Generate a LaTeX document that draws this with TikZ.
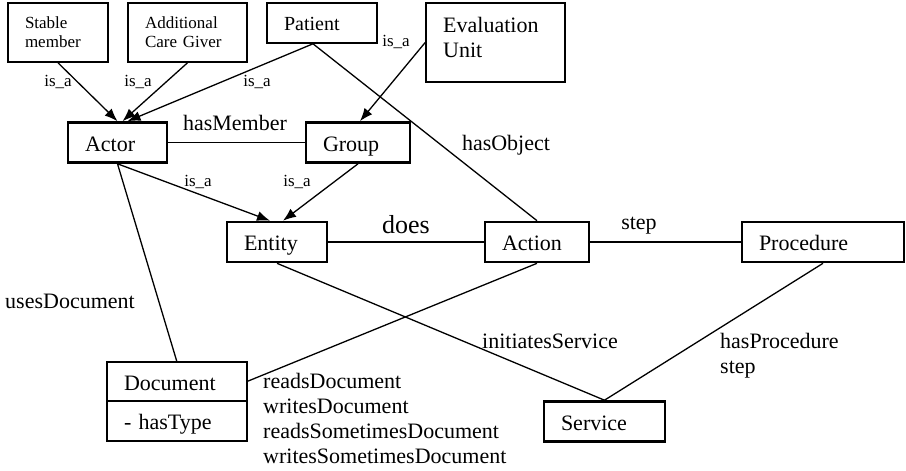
\documentclass[tikz,border=0pt]{standalone}
\usepackage{fontspec}
\setmainfont{Liberation Serif}
\usetikzlibrary{arrows.meta,positioning}

\begin{document}
\begin{tikzpicture}[
    x=1pt, y=-1pt,
    >={Latex[length=13pt,width=10pt]},
    clase/.style={draw, rectangle, line width=2.6pt, minimum height=40pt, inner xsep=17pt, inner ysep=0pt,
        align=left, text height=17pt, text depth=0pt, font=\fontsize{22}{25}\selectfont},
    hoja/.style={draw, rectangle, line width=1.6pt, inner xsep=17pt, inner ysep=0pt, align=left,
        font=\fontsize{17}{19}\selectfont},
    rel/.style={line width=1.3pt},
    etiq/.style={inner sep=0pt, font=\fontsize{22}{25}\selectfont},
    isa/.style={inner sep=0pt, font=\fontsize{17}{19}\selectfont}
]

\useasboundingbox (0,0) rectangle (906,471);

% Subclases
\node[hoja, text width=66pt, minimum height=59pt] (stable) at (58,32.5) {Stable\\member};
\node[hoja, text width=85pt, minimum height=59pt] (additional) at (187.5,32.5) {Additional\\Care Giver};
\node[hoja, text width=76pt, minimum height=40pt, text height=15pt, text depth=0pt,
    font=\fontsize{20}{22}\selectfont] (patient) at (322,23) {Patient};
\node[hoja, minimum width=139pt, minimum height=79pt] (eval) at (495.5,42.5) {};
\node[etiq, anchor=north west, align=left] (evaltext) at (443,17) {Evaluation\\Unit};

% Clases
\node[clase, text width=65pt] (actor) at (117.5,142.5) {Actor};
\node[clase, text width=70pt] (group) at (358,142.5) {Group};
\node[clase, text width=66pt] (entity) at (277,242) {Entity};
\node[clase, text width=70pt] (action) at (537,242) {Action};
\node[clase, text width=128pt] (procedure) at (823,242) {Procedure};
\node[clase, text width=87pt] (service) at (604.5,421.5) {Service};
\node[clase, text width=106pt, minimum height=39pt, outer sep=0pt] (doc) at (177,381.5) {Document};
\node[clase, text width=106pt, below=0pt of doc, outer sep=0pt] (doctype) {- hasType};

% Herencia (is_a)
\draw[rel,->] (stable.south) -- (actor.north);
\draw[rel,->] (additional.south) -- ([xshift=5pt]actor.north);
\draw[rel,->] ([xshift=-9pt]patient.south) -- ([xshift=10pt]actor.north);
\draw[rel,->] (eval.west) -- ([xshift=2pt]group.north);
\draw[rel,->] (actor.south) -- ([xshift=-7pt]entity.north);
\draw[rel,->] (group.south) -- ([xshift=6pt]entity.north);

% Asociaciones
\draw[rel] (actor) -- (group);
\draw[rel] (entity) -- (action);
\draw[rel] (action) -- (procedure);
\draw[rel] ([xshift=-9pt]patient.south) -- (action.north);
\draw[rel] (actor.south) -- (doc.north);
\draw[rel] (action.south) -- (doc.east);
\draw[rel] (entity.south) -- (service.north);
\draw[rel] (procedure.south) -- (service.north);

% Etiquetas
\node[isa, anchor=base] (isa1) at (58,86) {is\_a};
\node[isa, anchor=base] (isa2) at (138,86) {is\_a};
\node[isa, anchor=base] (isa3) at (257,86) {is\_a};
\node[isa, anchor=base] (isa4) at (396,46) {is\_a};
\node[isa, anchor=base] (isa5) at (198,186) {is\_a};
\node[isa, anchor=base] (isa6) at (297,186) {is\_a};
\node[etiq, anchor=base] (hasmember) at (235,130) {hasMember};
\node[etiq, anchor=base] (hasobject) at (506,150) {hasObject};
\node[etiq, anchor=base, font=\fontsize{26}{28}\selectfont] (does) at (406,233) {does};
\node[etiq, anchor=base] (step) at (639,229) {step};
\node[etiq, anchor=base] (uses) at (70,308) {usesDocument};
\node[etiq, anchor=base] (initiates) at (550,348) {initiatesService};
\node[etiq, anchor=north west, align=left] (hasproc) at (720,333) {hasProcedure\\step};
\node[etiq, anchor=north west, align=left] (docrels) at (263,373) {readsDocument\\writesDocument\\readsSometimesDocument\\writesSometimesDocument};

\end{tikzpicture}
\end{document}
